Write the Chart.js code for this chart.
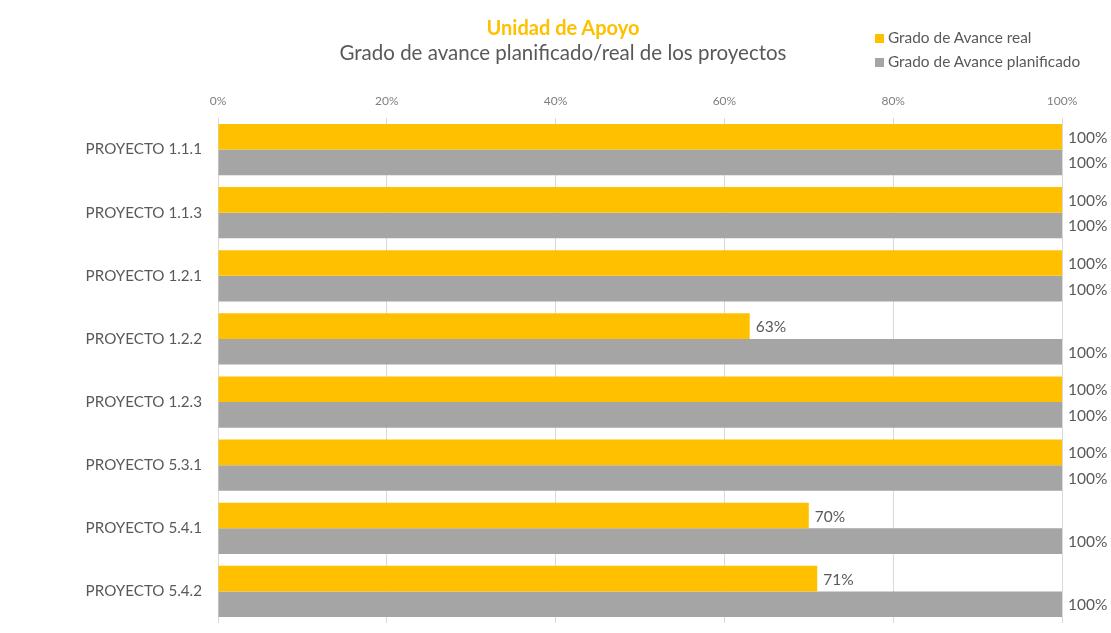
<!DOCTYPE html>
<html>
<head>
<meta charset="utf-8">
<script src="https://cdn.jsdelivr.net/npm/chart.js@4"></script>
<style>
  html, body { margin: 0; padding: 0; background: #fff; }
  body { width: 1111px; height: 633px; position: relative; overflow: hidden; font-family: Lato, "Open Sans", sans-serif; }
  #wrap { position: absolute; left: 0; top: 0; width: 1111px; height: 633px; }
  .title { position: absolute; left: 0; width: 1126px; text-align: center; }
  #t1 { top: 15px; font-size: 20px; font-weight: bold; color: #FFC000; }
  #t2 { top: 40px; font-size: 20.5px; color: #595959; }
  .legend { position: absolute; left: 875px; font-size: 15.4px; color: #595959; }
  .legend span { display: inline-block; width: 9px; height: 9px; margin-right: 4px; vertical-align: 0px; }
</style>
</head>
<body>
<div id="wrap"><canvas id="chart" width="1111" height="633"></canvas></div>
<div class="title" id="t1">Unidad de Apoyo</div>
<div class="title" id="t2">Grado de avance planificado/real de los proyectos</div>
<div class="legend" style="top:28px"><span style="background:#FFC000"></span>Grado de Avance real</div>
<div class="legend" style="top:52px"><span style="background:#A5A5A5"></span>Grado de Avance planificado</div>
<script>
const proyectos = ['PROYECTO 1.1.1', 'PROYECTO 1.1.3', 'PROYECTO 1.2.1', 'PROYECTO 1.2.2',
                   'PROYECTO 1.2.3', 'PROYECTO 5.3.1', 'PROYECTO 5.4.1', 'PROYECTO 5.4.2'];
const avanceReal = [100, 100, 100, 63, 100, 100, 70, 71];
const avancePlanificado = [100, 100, 100, 100, 100, 100, 100, 100];
const ticksX = [0, 20, 40, 60, 80, 100];

// draws the value next to each bar end
const valueLabels = {
    id: 'valueLabels',
    afterDatasetsDraw(chart) {
        const ctx = chart.ctx;
        ctx.save();
        ctx.font = '15.5px Lato, "Open Sans", sans-serif';
        ctx.fillStyle = '#595959';
        ctx.textAlign = 'left';
        ctx.textBaseline = 'middle';
        chart.data.datasets.forEach((ds, i) => {
            chart.getDatasetMeta(i).data.forEach((bar, j) => {
                ctx.fillText(ds.data[j] + '%', bar.x + 6, bar.y + 1);
            });
        });
        ctx.restore();
    }
};

new Chart(document.getElementById('chart'), {
    type: 'bar',
    data: {
        labels: proyectos,
        datasets: [
            {
                label: 'Grado de Avance real',
                data: avanceReal,
                backgroundColor: '#FFC000',
                categoryPercentage: 0.81,
                barPercentage: 1,
            },
            {
                label: 'Grado de Avance planificado',
                data: avancePlanificado,
                backgroundColor: '#A5A5A5',
                categoryPercentage: 0.81,
                barPercentage: 1,
            },
        ],
    },
    options: {
        indexAxis: 'y',
        responsive: false,
        animation: false,
        layout: { padding: { top: 90, right: 49, bottom: 10, left: 0 } },
        scales: {
            x: {
                position: 'top',
                min: 0,
                max: 100,
                afterBuildTicks(scale) {
                    scale.ticks = ticksX.map(v => ({ value: v }));
                },
                afterFit(scale) { scale.height = 28; },
                ticks: {
                    callback: v => v + '%',
                    font: { size: 12, family: 'Lato, "Open Sans", sans-serif' },
                    color: '#7f7f7f',
                    padding: 10,
                },
                grid: { color: '#D9D9D9', drawTicks: false },
                border: { display: false },
            },
            y: {
                afterFit(scale) {
                    scale.width = 218;
                    scale.paddingTop = 0;
                    scale.paddingBottom = 0;
                },
                ticks: {
                    font: { size: 15.2, family: 'Lato, "Open Sans", sans-serif' },
                    color: '#595959',
                    padding: 16,
                },
                grid: { display: false, drawTicks: false },
                border: { display: false },
            }
        },
        plugins: {
            legend: { display: false },
            tooltip: { enabled: false },
        }
    },
    plugins: [valueLabels]
});
</script>
</body>
</html>
